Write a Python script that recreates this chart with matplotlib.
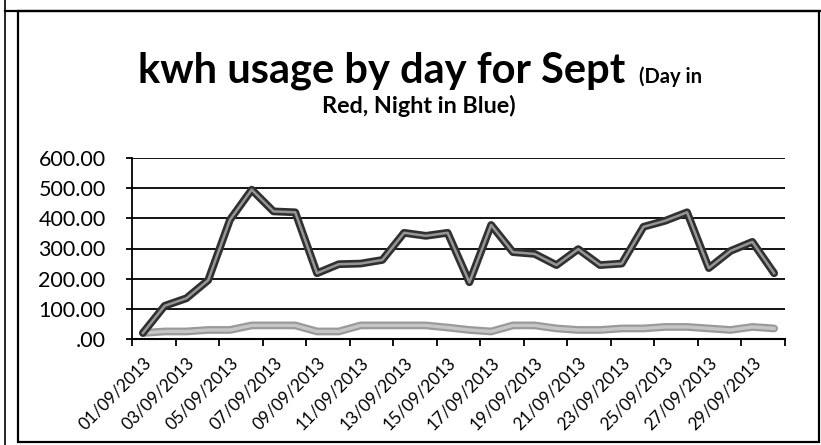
import matplotlib
matplotlib.use("Agg")
import matplotlib.pyplot as plt
from matplotlib.ticker import FuncFormatter
from matplotlib.lines import Line2D
from matplotlib.patches import Rectangle
from matplotlib.transforms import ScaledTranslation

plt.rcParams['font.family'] = ['Lato', 'DejaVu Sans']

dates = [f"{d:02d}/09/2013" for d in range(1, 31)]
day_kwh = [20, 110, 135, 195, 395, 495, 423, 420, 218, 248, 250, 262, 352, 342, 352, 188,
           378, 288, 282, 245, 298, 245, 250, 372, 392, 420, 235, 292, 322, 218]
night_kwh = [20, 25, 25, 30, 30, 45, 45, 45, 25, 25, 45, 45, 45, 45, 38, 30,
             25, 45, 45, 35, 30, 30, 35, 35, 40, 40, 35, 30, 40, 35]
yticks = [0, 100, 200, 300, 400, 500, 600]

W, H = 821, 445
fig = plt.figure(figsize=(W / 100, H / 100), dpi=100)
ax = fig.add_axes([132 / W, 1 - 339 / H, (785 - 132) / W, (339 - 158) / H])

x = list(range(len(dates)))
# scanned look: dark outline with a lighter core
ax.plot(x, night_kwh, color='#9a9a9a', lw=5.6, solid_capstyle='round', zorder=3)
ax.plot(x, night_kwh, color='#c6c6c6', lw=2.4, zorder=4)
ax.plot(x, day_kwh, color='#303030', lw=5.6, solid_capstyle='round', zorder=5)
ax.plot(x, day_kwh, color='#969696', lw=1.8, zorder=6)

ax.set_xlim(-0.5, len(dates) - 0.5)
ax.set_ylim(0, 600)
ax.set_yticks(yticks)
ax.yaxis.set_major_formatter(FuncFormatter(lambda v, p: f"{v:.2f}".lstrip('0')))
ax.grid(axis='y', color='black', lw=1.3)
ax.set_axisbelow(True)

ax.set_xticks([i - 0.5 for i in range(0, len(dates) + 1, 2)])
ax.set_xticklabels([])
ax.set_xticks(x[::2], minor=True)
ax.set_xticklabels(dates[::2], minor=True, rotation=45, ha='right', va='top',
                   rotation_mode='anchor', fontsize=12.3)
shift = ScaledTranslation(4 / 100, 0, fig.dpi_scale_trans)
for lab in ax.get_xticklabels(minor=True):
    lab.set_transform(lab.get_transform() + shift)
ax.tick_params(axis='x', which='major', length=5, width=1.3, direction='out')
ax.tick_params(axis='x', which='minor', length=0, pad=11)
ax.tick_params(axis='y', length=4, width=1.3, labelsize=15.5, pad=15)

for s in ['top', 'right']:
    ax.spines[s].set_visible(False)
ax.spines['left'].set_linewidth(1.3)
ax.spines['bottom'].set_linewidth(1.5)

# title: big part plus small note on the same baseline
fig.canvas.draw()
r = fig.canvas.get_renderer()
t1 = fig.text(0, 1 - 83 / H, "kwh usage by day for Sept", fontsize=30, fontweight='bold', va='baseline')
t2 = fig.text(0, 1 - 83 / H, "(Day in", fontsize=14.5, fontweight='bold', va='baseline')
w1 = t1.get_window_extent(r).width
w2 = t2.get_window_extent(r).width
gap = 13
x0 = 420 - (w1 + gap + w2) / 2
t1.set_x(x0 / W)
t2.set_x((x0 + w1 + gap) / W)
fig.text(419 / W, 1 - 113 / H, "Red, Night in Blue)", fontsize=16.8, fontweight='bold',
         ha='center', va='baseline')

# chart frame from the scan
fig.add_artist(Rectangle((18 / W, 1 - 442 / H), (819 - 18) / W, (442 - 11) / H,
                         transform=fig.transFigure, fill=False, lw=1.6, ec='black'))
fig.add_artist(Line2D([5 / W, 5 / W], [0, 1], transform=fig.transFigure, lw=1.2, color='black'))
fig.add_artist(Line2D([5 / W, 1], [1 - 11 / H, 1 - 11 / H], transform=fig.transFigure, lw=1.6, color='black'))

fig.savefig("out.png", dpi=100)
